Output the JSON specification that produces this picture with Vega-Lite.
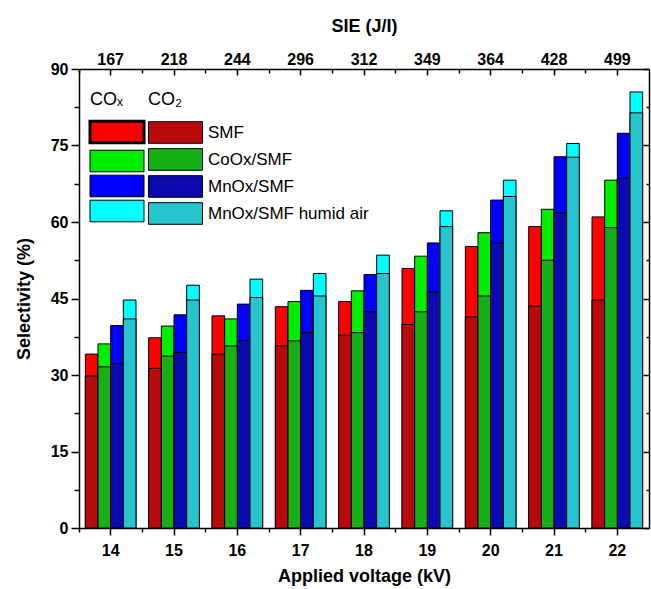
{
  "$schema": "https://vega.github.io/schema/vega-lite/v6.json",
  "width": 570,
  "height": 459,
  "autosize": {"type": "none"},
  "padding": {"left": 79, "top": 69, "right": 2, "bottom": 61},
  "background": "white",
  "config": {
    "view": {"stroke": null},
    "font": "Liberation Sans",
    "axis": {
      "domainColor": "black", "domainWidth": 1.5, "tickColor": "black", "tickWidth": 1.5,
      "labelColor": "black", "titleColor": "black", "labelFont": "Liberation Sans", "titleFont": "Liberation Sans",
      "labelFontWeight": "bold", "titleFontWeight": "bold", "labelFontSize": 16, "titleFontSize": 18, "grid": false
    },
    "legend": {"padding": 0, "labelFont": "Liberation Sans", "titleFont": "Liberation Sans", "labelColor": "black", "titleColor": "black", "labelLimit": 400}
  },
  "data": {"values": [
    {"voltage": 14, "sie": 167, "series": "SMF", "cox": 34.1, "co2": 29.8},
    {"voltage": 14, "sie": 167, "series": "CoOx/SMF", "cox": 36.1, "co2": 31.6},
    {"voltage": 14, "sie": 167, "series": "MnOx/SMF", "cox": 39.7, "co2": 32.2},
    {"voltage": 14, "sie": 167, "series": "MnOx/SMF humid air", "cox": 44.7, "co2": 41.0},
    {"voltage": 15, "sie": 218, "series": "SMF", "cox": 37.3, "co2": 31.3},
    {"voltage": 15, "sie": 218, "series": "CoOx/SMF", "cox": 39.6, "co2": 33.7},
    {"voltage": 15, "sie": 218, "series": "MnOx/SMF", "cox": 41.8, "co2": 34.4},
    {"voltage": 15, "sie": 218, "series": "MnOx/SMF humid air", "cox": 47.6, "co2": 44.7},
    {"voltage": 16, "sie": 244, "series": "SMF", "cox": 41.6, "co2": 34.1},
    {"voltage": 16, "sie": 244, "series": "CoOx/SMF", "cox": 41.0, "co2": 35.7},
    {"voltage": 16, "sie": 244, "series": "MnOx/SMF", "cox": 43.9, "co2": 36.7},
    {"voltage": 16, "sie": 244, "series": "MnOx/SMF humid air", "cox": 48.8, "co2": 45.2},
    {"voltage": 17, "sie": 296, "series": "SMF", "cox": 43.4, "co2": 35.7},
    {"voltage": 17, "sie": 296, "series": "CoOx/SMF", "cox": 44.4, "co2": 36.7},
    {"voltage": 17, "sie": 296, "series": "MnOx/SMF", "cox": 46.6, "co2": 38.3},
    {"voltage": 17, "sie": 296, "series": "MnOx/SMF humid air", "cox": 49.9, "co2": 45.5},
    {"voltage": 18, "sie": 312, "series": "SMF", "cox": 44.4, "co2": 37.8},
    {"voltage": 18, "sie": 312, "series": "CoOx/SMF", "cox": 46.5, "co2": 38.3},
    {"voltage": 18, "sie": 312, "series": "MnOx/SMF", "cox": 49.7, "co2": 42.4},
    {"voltage": 18, "sie": 312, "series": "MnOx/SMF humid air", "cox": 53.5, "co2": 49.9},
    {"voltage": 19, "sie": 349, "series": "SMF", "cox": 50.9, "co2": 39.9},
    {"voltage": 19, "sie": 349, "series": "CoOx/SMF", "cox": 53.3, "co2": 42.4},
    {"voltage": 19, "sie": 349, "series": "MnOx/SMF", "cox": 55.9, "co2": 46.3},
    {"voltage": 19, "sie": 349, "series": "MnOx/SMF humid air", "cox": 62.2, "co2": 59.1},
    {"voltage": 20, "sie": 364, "series": "SMF", "cox": 55.2, "co2": 41.4},
    {"voltage": 20, "sie": 364, "series": "CoOx/SMF", "cox": 57.9, "co2": 45.5},
    {"voltage": 20, "sie": 364, "series": "MnOx/SMF", "cox": 64.3, "co2": 55.9},
    {"voltage": 20, "sie": 364, "series": "MnOx/SMF humid air", "cox": 68.2, "co2": 65.0},
    {"voltage": 21, "sie": 428, "series": "SMF", "cox": 59.1, "co2": 43.5},
    {"voltage": 21, "sie": 428, "series": "CoOx/SMF", "cox": 62.5, "co2": 52.5},
    {"voltage": 21, "sie": 428, "series": "MnOx/SMF", "cox": 72.8, "co2": 61.8},
    {"voltage": 21, "sie": 428, "series": "MnOx/SMF humid air", "cox": 75.4, "co2": 72.7},
    {"voltage": 22, "sie": 499, "series": "SMF", "cox": 61.0, "co2": 44.7},
    {"voltage": 22, "sie": 499, "series": "CoOx/SMF", "cox": 68.2, "co2": 58.9},
    {"voltage": 22, "sie": 499, "series": "MnOx/SMF", "cox": 77.4, "co2": 68.6},
    {"voltage": 22, "sie": 499, "series": "MnOx/SMF humid air", "cox": 85.5, "co2": 81.4}
  ]},
  "layer": [
    {
      "mark": {"type": "bar", "stroke": "black", "strokeWidth": 1, "opacity": 1},
      "encoding": {
        "x": {"field": "voltage", "type": "ordinal", "scale": {"type": "band", "paddingInner": 0, "paddingOuter": 0},
          "axis": {"orient": "bottom", "title": "Applied voltage (kV)", "labelAngle": 0, "tickSize": 7, "labelPadding": 7, "titlePadding": 9}},
        "xOffset": {"field": "series", "type": "nominal", "sort": ["SMF", "CoOx/SMF", "MnOx/SMF", "MnOx/SMF humid air"], "scale": {"paddingInner": 0, "paddingOuter": 0.5}},
        "y": {"field": "cox", "type": "quantitative", "scale": {"domain": [0, 90], "nice": false},
          "axis": {"orient": "left", "title": "Selectivity (%)", "values": [0, 7.5, 15, 22.5, 30, 37.5, 45, 52.5, 60, 67.5, 75, 82.5, 90],
            "labelExpr": "datum.value % 15 === 0 ? datum.label : ''",
            "tickSize": {"condition": {"test": "datum.value % 15 === 0", "value": 8}, "value": 5},
            "labelPadding": 3, "titlePadding": 17}},
        "color": {"field": "series", "type": "nominal", "sort": ["SMF", "CoOx/SMF", "MnOx/SMF", "MnOx/SMF humid air"],
          "scale": {"range": ["#ff0000", "#00ee00", "#0000ff", "#00ffff"]},
          "legend": {"orient": "none", "legendX": 11, "legendY": 22, "direction": "vertical", "title": "COₓ", "titleFontSize": 18, "titleFontWeight": "normal",
            "titlePadding": 18, "symbolType": "M-1,-0.4H1V0.4H-1Z", "symbolSize": 2916, "symbolOffset": 22, "symbolStrokeColor": "black", "symbolStrokeWidth": 1,
            "symbolOpacity": 1, "rowPadding": -1, "labelExpr": "''", "labelOffset": 0,
            "encode": {"symbols": {"update": {"strokeWidth": {"signal": "datum.value === 'SMF' ? 3 : 1"}}}}}}
      }
    },
    {
      "transform": [{"filter": "datum.co2 >= 0"}],
      "mark": {"type": "bar", "stroke": "black", "strokeWidth": 1, "opacity": 1},
      "encoding": {
        "x": {"field": "voltage", "type": "ordinal", "scale": {"type": "band", "paddingInner": 0, "paddingOuter": 0}, "axis": null},
        "xOffset": {"field": "series", "type": "nominal", "sort": ["SMF", "CoOx/SMF", "MnOx/SMF", "MnOx/SMF humid air"], "scale": {"paddingInner": 0, "paddingOuter": 0.5}},
        "y": {"field": "co2", "type": "quantitative", "scale": {"domain": [0, 90], "nice": false},
          "axis": {"orient": "right", "title": null, "labels": false, "values": [0, 7.5, 15, 22.5, 30, 37.5, 45, 52.5, 60, 67.5, 75, 82.5, 90],
            "tickSize": {"condition": {"test": "datum.value % 15 === 0", "value": -6}, "value": -3}}},
        "fill": {"field": "series", "type": "nominal", "sort": ["SMF", "CoOx/SMF", "MnOx/SMF", "MnOx/SMF humid air"],
          "scale": {"range": ["#b80a0a", "#16b016", "#0a0ab0", "#26c4cc"]},
          "legend": {"orient": "none", "legendX": 69, "legendY": 22, "direction": "vertical", "title": "CO₂", "titleFontSize": 18, "titleFontWeight": "normal",
            "titlePadding": 11, "symbolType": "M-1,-0.4H1V0.4H-1Z", "symbolSize": 2916, "symbolStrokeColor": "black", "symbolStrokeWidth": 1,
            "symbolOpacity": 1, "clipHeight": 25, "rowPadding": 2, "labelFontSize": 17, "labelOffset": 5}}
      }
    },
    {
      "mark": {"type": "bar", "opacity": 0},
      "encoding": {
        "x": {"field": "sie", "type": "ordinal", "scale": {"type": "band", "paddingInner": 0, "paddingOuter": 0},
          "axis": {"orient": "top", "title": "SIE (J/I)", "labelAngle": 0, "tickSize": -6, "labelPadding": 8, "titlePadding": 16}}
      }
    },
    {
      "mark": {"type": "bar", "opacity": 0},
      "encoding": {
        "x": {"field": "voltage", "type": "ordinal", "scale": {"type": "band", "paddingInner": 0, "paddingOuter": 0},
          "axis": {"orient": "bottom", "title": null, "labels": false, "domain": false, "bandPosition": 0, "tickSize": 4}}
      }
    },
    {
      "mark": {"type": "bar", "opacity": 0},
      "encoding": {
        "x": {"field": "sie", "type": "ordinal", "scale": {"type": "band", "paddingInner": 0, "paddingOuter": 0},
          "axis": {"orient": "top", "title": null, "labels": false, "domain": false, "bandPosition": 0, "tickSize": -4}}
      }
    }
  ],
  "resolve": {"scale": {"x": "independent"}, "axis": {"x": "independent", "y": "independent"}}
}
